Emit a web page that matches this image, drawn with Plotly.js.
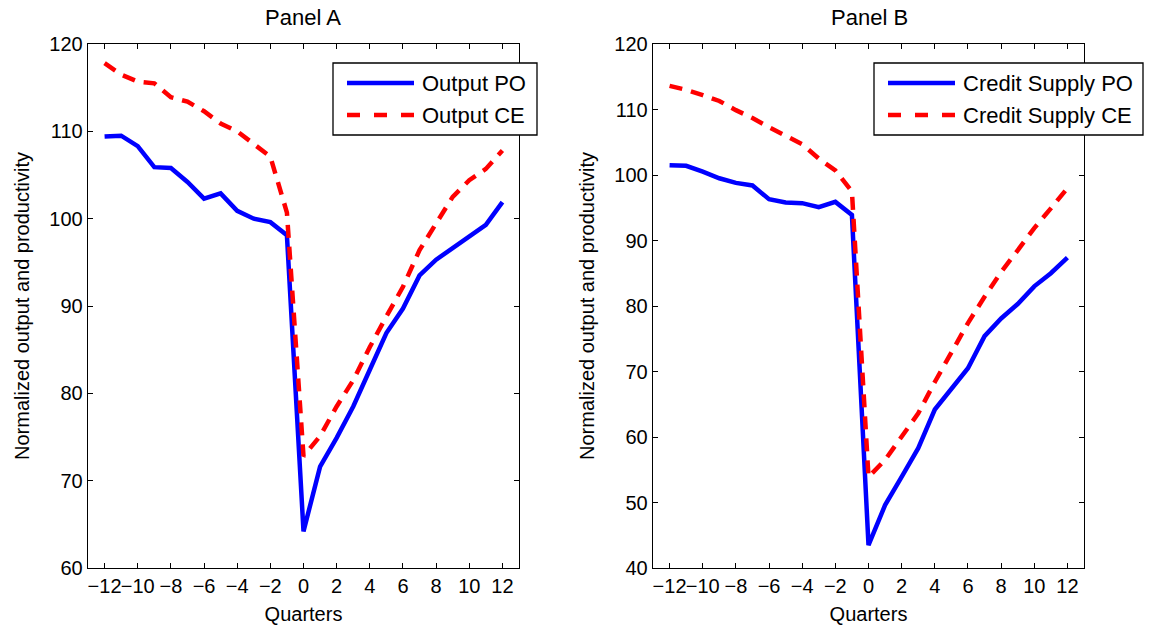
<!DOCTYPE html>
<html><head><meta charset="utf-8">
<script src="https://cdn.plot.ly/plotly-3.0.1.min.js"></script>
<style>html,body{margin:0;padding:0;background:#fff}</style>
</head><body><div id="chart" style="width:1149px;height:630px"></div>
<script>
const quarters = [-12,-11,-10,-9,-8,-7,-6,-5,-4,-3,-2,-1,0,1,2,3,4,5,6,7,8,9,10,11,12];
const outputPO = [109.4,109.5,108.3,105.9,105.8,104.2,102.3,102.9,100.9,100.0,99.6,98.1,64.2,71.6,74.9,78.5,82.7,86.9,89.7,93.5,95.3,96.6,97.9,99.3,101.9];
const outputCE = [117.8,116.5,115.7,115.5,113.9,113.4,112.3,110.9,110.0,108.6,107.1,100.7,72.8,75.1,78.5,81.5,85.3,88.8,92.2,96.4,99.5,102.5,104.4,105.7,107.8];
const creditPO = [101.5,101.4,100.5,99.5,98.8,98.4,96.3,95.8,95.7,95.1,95.9,93.9,43.5,49.6,53.9,58.3,64.2,67.3,70.5,75.4,78.1,80.3,83.0,85.0,87.4];
const creditCE = [113.6,113.0,112.2,111.3,109.9,108.7,107.3,106.0,104.7,102.5,100.7,97.5,53.9,56.5,60.0,63.6,68.4,73.0,77.4,81.4,85.2,88.5,91.9,94.9,98.0];
const seriesNames = ["Output PO","Output CE","Credit Supply PO","Credit Supply CE"];
const panelTitles = ["Panel A","Panel B"];
const xTicks = [-12,-10,-8,-6,-4,-2,0,2,4,6,8,10,12];
const xTitle = "Quarters";
const yTitle = "Normalized output and productivity";

const W = 1149, H = 630, ML = 88, MR = 65, MT = 44, MB = 62;
const PW = W - ML - MR, PH = H - MT - MB;
const px = v => (v - ML) / PW;
const py = v => (H - MB - v) / PH;

const FONT = "Liberation Sans, Arial, Helvetica, sans-serif";
const FS = 20, FS_BIG = 22;
const BLUE = "#0000ff", RED = "#ff0000";
const LW = 4.5, DASH = "13px,9px";

const traces = [
  {x: quarters, y: outputPO, name: seriesNames[0], xaxis: "x", yaxis: "y", mode: "lines", line: {color: BLUE, width: LW}},
  {x: quarters, y: outputCE, name: seriesNames[1], xaxis: "x", yaxis: "y", mode: "lines", line: {color: RED, width: LW, dash: DASH}},
  {x: quarters, y: creditPO, name: seriesNames[2], xaxis: "x2", yaxis: "y2", mode: "lines", line: {color: BLUE, width: LW}},
  {x: quarters, y: creditCE, name: seriesNames[3], xaxis: "x2", yaxis: "y2", mode: "lines", line: {color: RED, width: LW, dash: DASH}}
];

function xax(domain, anchor) {
  return {domain: domain, anchor: anchor, range: [-13, 13], tickmode: "array", tickvals: xTicks,
    ticks: "inside", ticklen: 5, tickcolor: "#000", mirror: "ticks", showline: true, linecolor: "#000", linewidth: 1.3,
    showgrid: false, zeroline: false, tickangle: 0, tickfont: {size: FS, color: "#000", family: FONT},
    title: {text: xTitle, font: {size: FS, color: "#000", family: FONT}, standoff: 10}};
}
function yax(range, anchor) {
  return {domain: [0, 1], anchor: anchor, range: range, dtick: 10, tick0: 0,
    ticks: "inside", ticklen: 5, tickcolor: "#000", mirror: "ticks", showline: true, linecolor: "#000", linewidth: 1.3,
    showgrid: false, zeroline: false, tickfont: {size: FS, color: "#000", family: FONT},
    title: {text: yTitle, font: {size: FS, color: "#000", family: FONT}, standoff: 14}};
}

const shapes = [], annotations = [];
function legendBox(x0, x1, lineX0, lineX1, textX, labels) {
  shapes.push({type: "rect", xref: "paper", yref: "paper", x0: px(x0), x1: px(x1), y0: py(135), y1: py(63),
    line: {color: "#000", width: 1.3}, fillcolor: "#fff", layer: "above"});
  const rows = [83, 115];
  const styles = [{color: BLUE, width: LW}, {color: RED, width: LW, dash: "13px,14px"}];
  rows.forEach((r, i) => {
    shapes.push({type: "line", xref: "paper", yref: "paper", x0: px(lineX0), x1: px(lineX1), y0: py(r), y1: py(r), line: styles[i], layer: "above"});
    annotations.push({text: labels[i], xref: "paper", yref: "paper", x: px(textX), y: py(r), xanchor: "left", yanchor: "middle",
      showarrow: false, font: {size: FS_BIG, color: "#000", family: FONT}});
  });
}
legendBox(333, 537, 347, 414, 420, [seriesNames[0], seriesNames[1]]);
legendBox(874, 1143, 888, 955, 961, [seriesNames[2], seriesNames[3]]);

annotations.push({text: panelTitles[0], xref: "paper", yref: "paper", x: px(303), y: py(18), xanchor: "center", yanchor: "middle", showarrow: false, font: {size: FS_BIG, color: "#000", family: FONT}});
annotations.push({text: panelTitles[1], xref: "paper", yref: "paper", x: px(869), y: py(18), xanchor: "center", yanchor: "middle", showarrow: false, font: {size: FS_BIG, color: "#000", family: FONT}});

const layout = {
  width: W, height: H, margin: {l: ML, r: MR, t: MT, b: MB},
  paper_bgcolor: "#fff", plot_bgcolor: "#fff", showlegend: false,
  font: {family: FONT, size: FS, color: "#000"},
  xaxis: xax([0, px(519)], "y"),
  yaxis: yax([60, 120], "x"),
  xaxis2: xax([px(653), 1], "y2"),
  yaxis2: yax([40, 120], "x2"),
  shapes: shapes, annotations: annotations
};
Plotly.newPlot("chart", traces, layout, {displayModeBar: false, staticPlot: true});
</script></body></html>
